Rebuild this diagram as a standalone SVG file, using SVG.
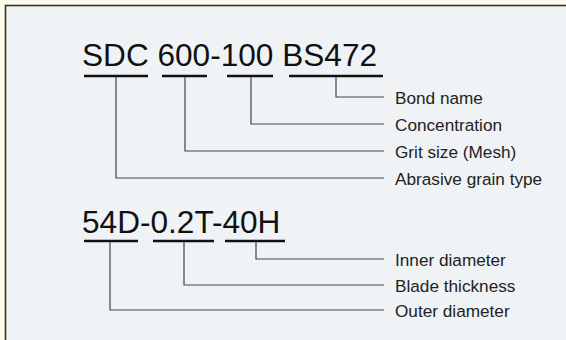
<svg xmlns="http://www.w3.org/2000/svg" width="566" height="340" viewBox="0 0 566 340">
<style>
.code{font-family:"Liberation Sans",Arial,sans-serif;font-size:31.6px;fill:#111}
.lbl{font-family:"Liberation Sans",Arial,sans-serif;font-size:17.2px;fill:#222}
.ul{stroke:#111;stroke-width:2.6;fill:none}
.ld{stroke:#444;stroke-width:1.2;fill:none}
</style>
<rect x="0" y="0" width="566" height="340" fill="#fffcee"/>
<rect x="5.5" y="5.5" width="570" height="345" fill="#eff3f6" stroke="#333" stroke-width="1.6"/>
<g id="code1">
<text class="code" x="82" y="66">SDC 600-100 BS472</text>
</g>
<g id="code2">
<text class="code" x="82" y="233">54D-0.2T-40H</text>
</g>
<g id="underlines">
<path class="ul" d="M84 76H148M162 76H207M227 76H273M289 76H383"/>
<path class="ul" d="M84 241H138M153 241H214M225 241H285"/>
</g>
<g id="connectors">
<path class="ld" d="M336 77V97H384"/>
<path class="ld" d="M251 77V124H384"/>
<path class="ld" d="M185 77V151H384"/>
<path class="ld" d="M116 77V178H384"/>
<path class="ld" d="M256 242V259H384"/>
<path class="ld" d="M184 242V285H384"/>
<path class="ld" d="M110 242V310H384"/>
</g>
<g id="labels">
<text class="lbl" x="395" y="104">Bond name</text>
<text class="lbl" x="395" y="131">Concentration</text>
<text class="lbl" x="395" y="158">Grit size (Mesh)</text>
<text class="lbl" x="395" y="185">Abrasive grain type</text>
<text class="lbl" x="395" y="266">Inner diameter</text>
<text class="lbl" x="395" y="292">Blade thickness</text>
<text class="lbl" x="395" y="317">Outer diameter</text>
</g>
</svg>
